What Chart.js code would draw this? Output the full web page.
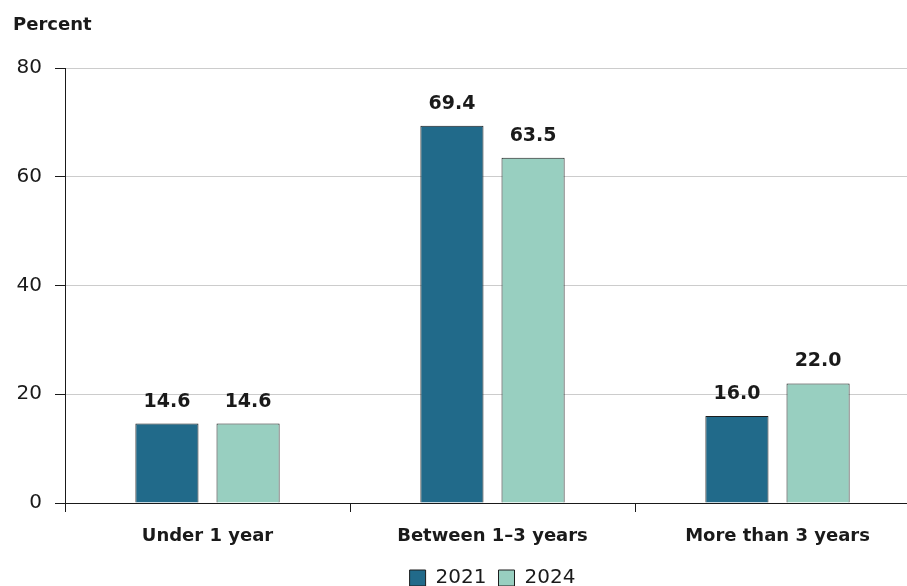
<!DOCTYPE html>
<html>
<head>
<meta charset="utf-8">
<script src="https://cdn.jsdelivr.net/npm/chart.js@4/dist/chart.umd.min.js"></script>
<style>
  html, body { margin: 0; padding: 0; background: #fff; overflow: hidden; }
  #wrap { width: 920px; height: 598px; }
</style>
</head>
<body>
<div id="wrap"><canvas id="c" width="920" height="598"></canvas></div>
<script>
const categories = ['Under 1 year', 'Between 1\u20133 years', 'More than 3 years'];
const values2021 = [14.6, 69.4, 16.0];
const values2024 = [14.6, 63.5, 22.0];
const seriesNames = ['2021', '2024'];
const yTicks = [0, 20, 40, 60, 80];

const FONT = '"DejaVu Sans", "Open Sans", sans-serif';

// Value labels above each bar, plus the "Percent" axis heading
const labelPlugin = {
  id: 'barLabels',
  afterDatasetsDraw(chart) {
    const ctx = chart.ctx;
    ctx.save();
    ctx.fillStyle = '#1a1a1a';
    ctx.font = 'bold 19px ' + FONT;
    ctx.textAlign = 'center';
    ctx.textBaseline = 'alphabetic';
    chart.data.datasets.forEach((ds, di) => {
      chart.getDatasetMeta(di).data.forEach((bar, i) => {
        ctx.fillText(ds.data[i].toFixed(1), bar.x, bar.y - 17);
      });
    });
    ctx.font = 'bold 18px ' + FONT;
    ctx.textAlign = 'left';
    ctx.fillText('Percent', 13, 30);
    ctx.restore();
  }
};

new Chart(document.getElementById('c'), {
  type: 'bar',
  data: {
    labels: categories,
    datasets: [
      { label: seriesNames[0], data: values2021, backgroundColor: '#216a8a', borderColor: '#1d1d1d', borderWidth: 1, borderSkipped: 'bottom' },
      { label: seriesNames[1], data: values2024, backgroundColor: '#98cfc0', borderColor: '#1d1d1d', borderWidth: 1, borderSkipped: 'bottom' }
    ]
  },
  options: {
    responsive: false,
    animation: false,
    devicePixelRatio: 1,
    layout: { padding: { top: 68, right: 0, left: 0, bottom: 0 } },
    datasets: { bar: { categoryPercentage: 0.5694, barPercentage: 0.778 } },
    plugins: {
      legend: {
        position: 'bottom',
        fullSize: false,
        labels: {
          boxWidth: 16, boxHeight: 16, padding: 12,
          color: '#1a1a1a',
          font: { family: FONT, size: 20 }
        }
      },
      tooltip: { enabled: false }
    },
    scales: {
      x: {
        offset: true,
        grid: { display: true, drawOnChartArea: false, offset: true, tickLength: 9, tickColor: '#1a1a1a', lineWidth: 1 },
        border: { color: '#1a1a1a', width: 1 },
        ticks: { color: '#1a1a1a', padding: 14, font: { family: FONT, size: 18, weight: 'bold' } },
        afterFit(scale) { scale.height = 53; }
      },
      y: {
        min: 0, max: 80,
        afterBuildTicks(scale) { scale.ticks = yTicks.map(v => ({ value: v })); },
        grid: { color: '#cccccc', lineWidth: 1, tickLength: 10, tickColor: '#1a1a1a' },
        border: { color: '#1a1a1a', width: 1 },
        ticks: { color: '#1a1a1a', padding: 13, font: { family: FONT, size: 20 } },
        afterFit(scale) { scale.width = 65; }
      }
    }
  },
  plugins: [labelPlugin]
});
</script>
</body>
</html>
